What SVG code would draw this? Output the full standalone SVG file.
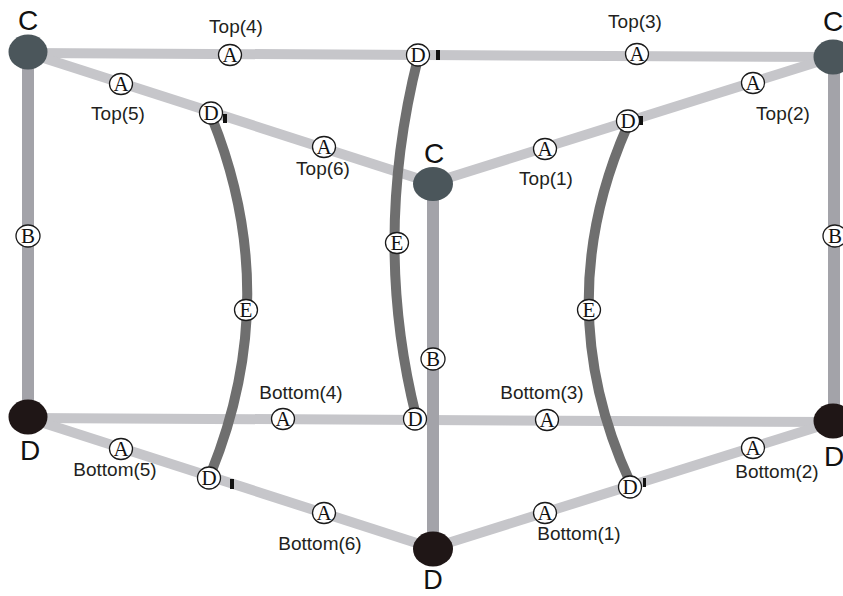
<svg xmlns="http://www.w3.org/2000/svg" width="843" height="596" viewBox="0 0 843 596">
<style>
.a{stroke:#c6c6ca;stroke-width:10;fill:none}
.b{stroke:#a3a3a9;stroke-width:12;fill:none}
.e{stroke:#6f6f6f;stroke-width:10;fill:none}
.nc{fill:#4b565b}
.nd{fill:#1f1616}
.big{font-family:"Liberation Sans",Arial,sans-serif;font-size:28px;fill:#111;text-anchor:middle}
.lbl{font-family:"Liberation Sans",Arial,sans-serif;font-size:19px;fill:#231f20;text-anchor:middle}
.m ellipse{fill:#fff;stroke:#1a1a1a;stroke-width:1.3}
.m text{font-family:"Liberation Serif","Times New Roman",serif;font-size:21px;fill:#111;text-anchor:middle}
.tk{fill:#111}
</style>
<rect width="843" height="596" fill="#fff"/>
<g id="connectors">
  <line class="a" x1="28" y1="53" x2="833" y2="57"/>
  <line class="a" x1="28" y1="53" x2="432" y2="183"/>
  <line class="a" x1="432" y1="183" x2="833" y2="57"/>
  <line class="a" x1="28" y1="418" x2="833" y2="422"/>
  <line class="a" x1="28" y1="418" x2="432" y2="548"/>
  <line class="a" x1="432" y1="548" x2="833" y2="422"/>
  <line class="b" x1="28" y1="53" x2="28" y2="418"/>
  <line class="b" x1="834" y1="57" x2="834" y2="422"/>
  <line class="b" x1="433" y1="183" x2="433" y2="548"/>
  <path class="e" d="M212,118 Q283,295 211,473"/>
  <path class="e" d="M418,58 Q372,240 416,416"/>
  <path class="e" d="M627,127 Q549,305 630,482"/>
  <rect class="tk" x="223" y="114" width="4" height="9"/>
  <rect class="tk" x="436" y="50" width="4" height="10"/>
  <rect class="tk" x="639" y="116" width="4" height="9"/>
  <rect class="tk" x="230" y="479" width="4" height="10"/>
  <rect class="tk" x="643" y="478" width="3" height="9"/>
</g>
<g id="node-c-topleft"><ellipse class="nc" cx="28" cy="52" rx="19.5" ry="17.5"/><text class="big" x="28" y="30">C</text></g>
<g id="node-c-topright"><ellipse class="nc" cx="833" cy="57" rx="19.5" ry="17.5"/><text class="big" x="833" y="31">C</text></g>
<g id="node-c-center"><ellipse class="nc" cx="433" cy="184" rx="20" ry="17"/><text class="big" x="434" y="163">C</text></g>
<g id="node-d-bottomleft"><ellipse class="nd" cx="28" cy="417" rx="19.5" ry="17.5"/><text class="big" x="30" y="460">D</text></g>
<g id="node-d-bottomcenter"><ellipse class="nd" cx="433" cy="549" rx="20" ry="17.5"/><text class="big" x="433" y="589" style="font-size:27px">D</text></g>
<g id="node-d-bottomright"><ellipse class="nd" cx="833" cy="421" rx="19.5" ry="17.5"/><text class="big" x="834" y="466">D</text></g>

<g id="m-top4" class="m"><ellipse cx="230" cy="55" rx="11.5" ry="10.5"/><text x="230" y="62">A</text></g>
<g id="m-top5" class="m"><ellipse cx="121" cy="84" rx="11.5" ry="10.5"/><text x="121" y="91">A</text></g>
<g id="m-top6" class="m"><ellipse cx="324" cy="147" rx="11.5" ry="10.5"/><text x="324" y="154">A</text></g>
<g id="m-top1" class="m"><ellipse cx="545" cy="149" rx="11.5" ry="10.5"/><text x="545" y="156">A</text></g>
<g id="m-top3" class="m"><ellipse cx="637" cy="54" rx="11.5" ry="10.5"/><text x="637" y="61">A</text></g>
<g id="m-top2" class="m"><ellipse cx="753" cy="83" rx="11.5" ry="10.5"/><text x="753" y="90">A</text></g>
<g id="m-bot4" class="m"><ellipse cx="283" cy="419" rx="11.5" ry="10.5"/><text x="283" y="426">A</text></g>
<g id="m-bot3" class="m"><ellipse cx="547" cy="420" rx="11.5" ry="10.5"/><text x="547" y="427">A</text></g>
<g id="m-bot5" class="m"><ellipse cx="121" cy="449" rx="11.5" ry="10.5"/><text x="121" y="456">A</text></g>
<g id="m-bot6" class="m"><ellipse cx="324" cy="513" rx="11.5" ry="10.5"/><text x="324" y="520">A</text></g>
<g id="m-bot1" class="m"><ellipse cx="545" cy="513" rx="11.5" ry="10.5"/><text x="545" y="520">A</text></g>
<g id="m-bot2" class="m"><ellipse cx="753" cy="448" rx="11.5" ry="10.5"/><text x="753" y="455">A</text></g>
<g id="m-bl" class="m"><ellipse cx="28" cy="236" rx="12" ry="11"/><text x="28" y="243">B</text></g>
<g id="m-bc" class="m"><ellipse cx="433" cy="359" rx="12" ry="11"/><text x="433" y="366">B</text></g>
<g id="m-br" class="m"><ellipse cx="835" cy="236" rx="12" ry="11"/><text x="835" y="243">B</text></g>
<g id="m-el" class="m"><ellipse cx="246" cy="310" rx="11.5" ry="10.5"/><text x="246" y="317">E</text></g>
<g id="m-ec" class="m"><ellipse cx="397" cy="243" rx="11.5" ry="10.5"/><text x="397" y="250">E</text></g>
<g id="m-er" class="m"><ellipse cx="589" cy="310" rx="11.5" ry="10.5"/><text x="589" y="317">E</text></g>
<g id="m-d1" class="m"><ellipse cx="211" cy="113" rx="11.5" ry="11"/><text x="211" y="120">D</text></g>
<g id="m-d2" class="m"><ellipse cx="418" cy="55" rx="11.5" ry="11"/><text x="418" y="62">D</text></g>
<g id="m-d3" class="m"><ellipse cx="628" cy="121" rx="11.5" ry="11"/><text x="628" y="128">D</text></g>
<g id="m-d4" class="m"><ellipse cx="209" cy="478" rx="11.5" ry="11"/><text x="209" y="485">D</text></g>
<g id="m-d5" class="m"><ellipse cx="415" cy="419" rx="11.5" ry="11"/><text x="415" y="426">D</text></g>
<g id="m-d6" class="m"><ellipse cx="630" cy="487" rx="11.5" ry="11"/><text x="630" y="494">D</text></g>

<g id="labels">
  <text class="lbl" x="236" y="33">Top(4)</text>
  <text class="lbl" x="118" y="120">Top(5)</text>
  <text class="lbl" x="323" y="175">Top(6)</text>
  <text class="lbl" x="546" y="185">Top(1)</text>
  <text class="lbl" x="635" y="28">Top(3)</text>
  <text class="lbl" x="783" y="120">Top(2)</text>
  <text class="lbl" x="301" y="399">Bottom(4)</text>
  <text class="lbl" x="542" y="399">Bottom(3)</text>
  <text class="lbl" x="115" y="476">Bottom(5)</text>
  <text class="lbl" x="320" y="550">Bottom(6)</text>
  <text class="lbl" x="579" y="540">Bottom(1)</text>
  <text class="lbl" x="777" y="478">Bottom(2)</text>
</g>
</svg>
